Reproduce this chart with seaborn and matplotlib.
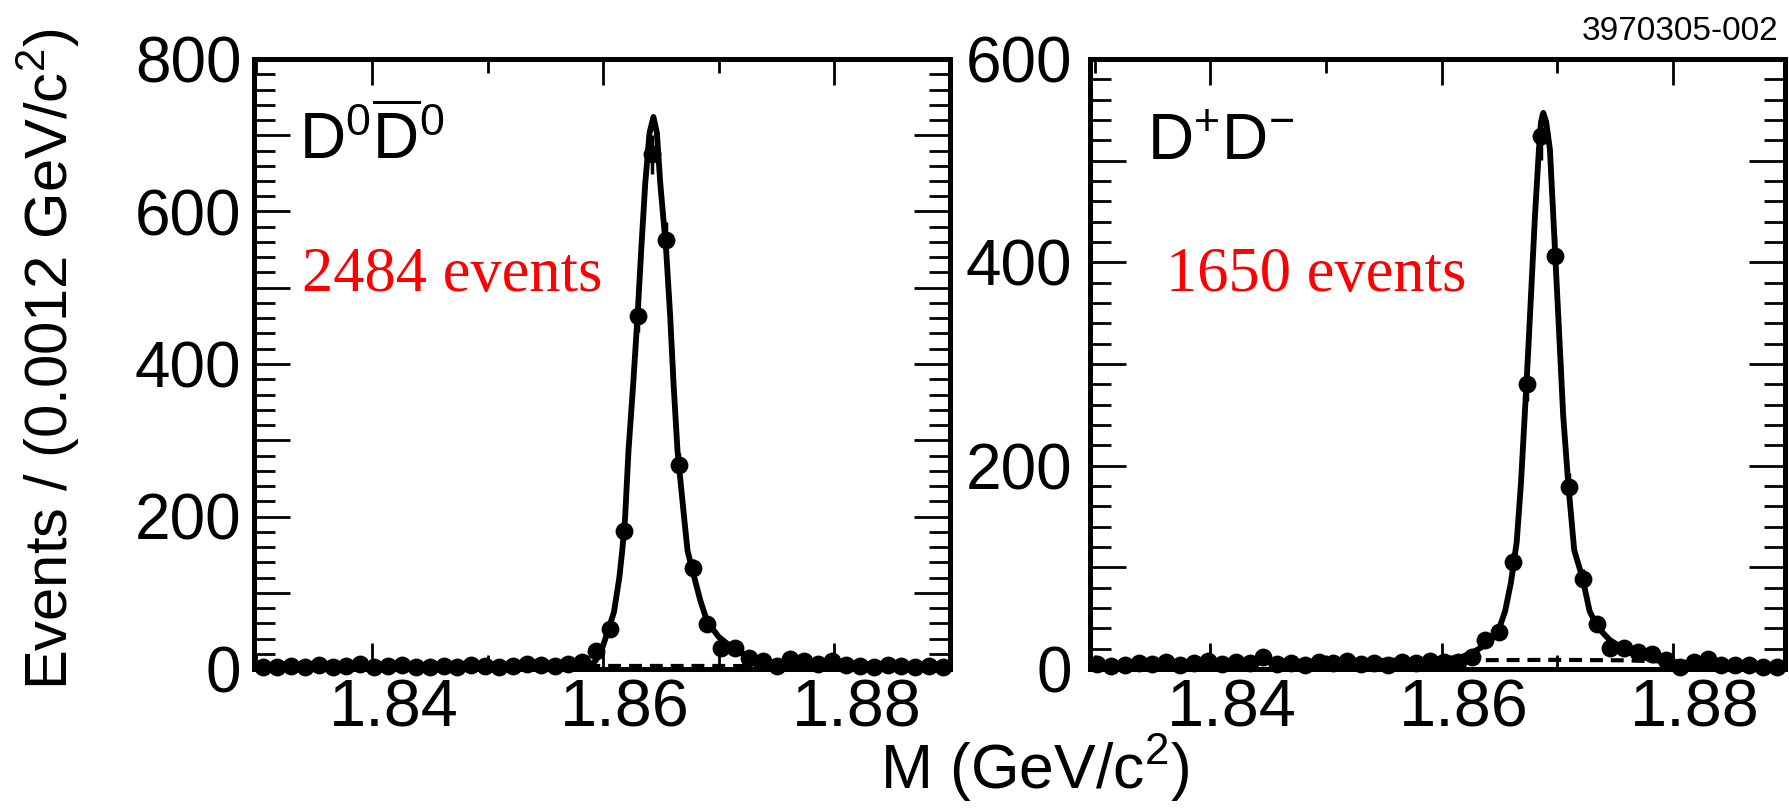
import matplotlib

matplotlib.use("Agg")
import matplotlib.pyplot as plt
import matplotlib.transforms as mtransforms
import numpy as np
import seaborn as sns
from matplotlib.ticker import FuncFormatter, MultipleLocator

# ---- data ----
# histogram bins are 0.0012 GeV wide, 50 bins per panel
bin_w = 0.0012
d0_first = 1.8306
dp_first = 1.8302

d0_counts = [3, 2, 4, 3, 5, 2, 4, 6, 3, 4, 5, 3, 2, 4, 3, 5, 4, 3, 4, 6, 5, 4, 7, 9,
             23, 52, 181, 463, 675, 562, 267, 133, 59, 28, 28, 15, 10, 4, 13, 10,
             6, 10, 5, 4, 3, 5, 4, 3, 4, 3]
dp_counts = [5, 3, 4, 6, 5, 7, 4, 6, 8, 5, 7, 6, 12, 5, 6, 4, 7, 6, 8, 5, 6, 4, 7, 6,
             8, 7, 7, 12, 29, 36, 105, 280, 524, 406, 179, 89, 44, 21, 21, 17,
             15, 9, 2, 7, 10, 4, 4, 4, 2, 2]

# fitted line shapes (solid) and backgrounds (dashed)
d0_fit_m = [1.8298, 1.8400, 1.8500, 1.8560, 1.8585, 1.8592, 1.85978, 1.86035, 1.86094,
            1.8614, 1.86165, 1.8619, 1.86219, 1.8626, 1.86297, 1.86329, 1.86364,
            1.86401, 1.86435, 1.86465, 1.86494, 1.86545, 1.8658, 1.86609, 1.86643,
            1.8670, 1.8673, 1.8678, 1.8684, 1.8690, 1.8700, 1.8715, 1.8730, 1.8750,
            1.8780, 1.8820, 1.8860, 1.8900]
d0_fit_n = [2, 3, 3.5, 4, 6, 8, 21, 47, 75, 120, 155, 199, 286, 374, 462, 549, 637,
            703, 724, 703, 637, 549, 462, 374, 286, 199, 155, 125, 90, 62, 42, 24,
            14, 8, 5, 3.5, 1.5, 0]
d0_bkg_m = [1.8298, 1.840, 1.850, 1.860, 1.870, 1.876, 1.880, 1.8866]
d0_bkg_n = [2, 3, 3.5, 4, 4, 3.5, 2.5, 0.5]

dp_fit_m = [1.8296, 1.8400, 1.8500, 1.8580, 1.8616, 1.8628, 1.8640, 1.8649, 1.8655,
            1.8660, 1.8665, 1.86687, 1.86719, 1.8675, 1.86779, 1.86808, 1.86842,
            1.8686, 1.8688, 1.86905, 1.86937, 1.86966, 1.86995, 1.87024, 1.87052,
            1.87095, 1.87147, 1.8722, 1.8728, 1.8735, 1.8745, 1.8761, 1.8776,
            1.8800, 1.8840, 1.8866, 1.8897]
dp_fit_n = [3, 6, 7.5, 8.5, 11, 17, 25, 37, 57, 85, 125, 183, 249, 314, 380, 446, 511,
            538, 547, 538, 511, 446, 380, 314, 249, 183, 117, 89, 57, 41, 29, 17, 11,
            7, 4, 1, 0]
dp_bkg_m = [1.8296, 1.840, 1.850, 1.860, 1.870, 1.876, 1.880, 1.884, 1.8866]
dp_bkg_n = [4, 6, 7.5, 8.5, 9, 8.5, 7, 4.5, 0.5]

panels = [
    dict(first=d0_first, counts=d0_counts, fit_m=d0_fit_m, fit_n=d0_fit_n,
         bkg_m=d0_bkg_m, bkg_n=d0_bkg_n, ymax=800, xlim=(1.8298, 1.8900),
         tag=r"$\mathrm{D}^{0}\overline{\mathrm{D}}^{0}$", n_events="2484 events",
         tag_x=0.065, ev_x=0.069, ypad=9),
    dict(first=dp_first, counts=dp_counts, fit_m=dp_fit_m, fit_n=dp_fit_n,
         bkg_m=dp_bkg_m, bkg_n=dp_bkg_n, ymax=600, xlim=(1.8296, 1.8897),
         tag=r"$\mathrm{D}^{+}\mathrm{D}^{-}$", n_events="1650 events",
         tag_x=0.082, ev_x=0.109, ypad=13),
]

sns.set_theme(style="ticks")
plt.rcParams["font.family"] = ["Liberation Sans", "DejaVu Sans"]
plt.rcParams["text.color"] = "black"
plt.rcParams["axes.labelcolor"] = "black"
plt.rcParams["mathtext.fontset"] = "custom"
plt.rcParams["mathtext.rm"] = "Liberation Sans"
plt.rcParams["mathtext.it"] = "Liberation Sans:italic"
plt.rcParams["mathtext.bf"] = "Liberation Sans:bold"

fig = plt.figure(figsize=(17.89, 8.10), dpi=100)
W, H = 1789, 810
ax_boxes = [
    [254 / W, 1 - 669 / H, 696 / W, 610 / H],
    [1090 / W, 1 - 669 / H, 695 / W, 610 / H],
]

shift = mtransforms.ScaledTranslation(22 / 100, 0, fig.dpi_scale_trans)

for box, p in zip(ax_boxes, panels):
    ax = fig.add_axes(box)
    counts = np.array(p["counts"], dtype=float)
    mass = p["first"] + bin_w * np.arange(len(counts))

    sns.lineplot(x=p["bkg_m"], y=p["bkg_n"], ax=ax, color="black", lw=3,
                 linestyle=(0, (3.1, 1.9)), estimator=None, zorder=2)
    sns.lineplot(x=p["fit_m"], y=p["fit_n"], ax=ax, color="black", lw=4.2,
                 estimator=None, zorder=3)
    ax.errorbar(mass, counts, yerr=np.sqrt(counts), fmt="none", ecolor="black",
                elinewidth=2.5, capsize=0, zorder=4, clip_on=False)
    sns.scatterplot(x=mass, y=counts, ax=ax, color="black", s=165,
                    edgecolor="black", linewidth=0, zorder=5, clip_on=False)

    ax.set_xlim(*p["xlim"])
    ax.set_ylim(0, p["ymax"])
    ax.set_xlabel("")
    ax.set_ylabel("")

    ax.xaxis.set_major_locator(MultipleLocator(0.02))
    ax.xaxis.set_minor_locator(MultipleLocator(0.01))
    ax.xaxis.set_major_formatter(FuncFormatter(lambda v, _: f"{v:.2f}"))
    ax.yaxis.set_major_locator(MultipleLocator(100))
    ax.yaxis.set_minor_locator(MultipleLocator(20))
    ax.yaxis.set_major_formatter(
        FuncFormatter(lambda v, _: f"{v:.0f}" if round(v) % 200 == 0 else ""))

    ax.tick_params(axis="y", which="major", direction="in", length=26, width=2,
                   left=True, right=True, labelsize=46, pad=p["ypad"], colors="black")
    ax.tick_params(axis="y", which="minor", direction="in", length=15, width=2,
                   left=True, right=True, colors="black")
    ax.tick_params(axis="x", which="major", direction="in", length=19, width=2,
                   top=True, bottom=True, labelsize=48, pad=7, colors="black")
    ax.tick_params(axis="x", which="minor", direction="in", length=10, width=2,
                   top=True, bottom=True, colors="black")
    for spine in ax.spines.values():
        spine.set_visible(True)
        spine.set_linewidth(3.6)
        spine.set_color("black")

    for lab in ax.get_xticklabels():
        lab.set_transform(lab.get_transform() + shift)

    ax.text(p["tag_x"], 0.834, p["tag"], transform=ax.transAxes, fontsize=46,
            va="baseline", ha="left", color="black")
    ax.text(p["ev_x"], 0.62, p["n_events"], transform=ax.transAxes, fontsize=45,
            va="baseline", ha="left", color="#ff0000", family="Liberation Serif")

fig.text(0.027, 0.556, r"Events / (0.0012 GeV/c$^{2}$)", rotation=90,
         ha="center", va="center", fontsize=43)
fig.text(0.5786, 0.052, r"M (GeV/c$^{2}$)", ha="center", va="center", fontsize=45)
fig.text(0.9939, 0.951, "3970305-002", ha="right", va="baseline", fontsize=24)

fig.savefig("out.png", dpi=100)
